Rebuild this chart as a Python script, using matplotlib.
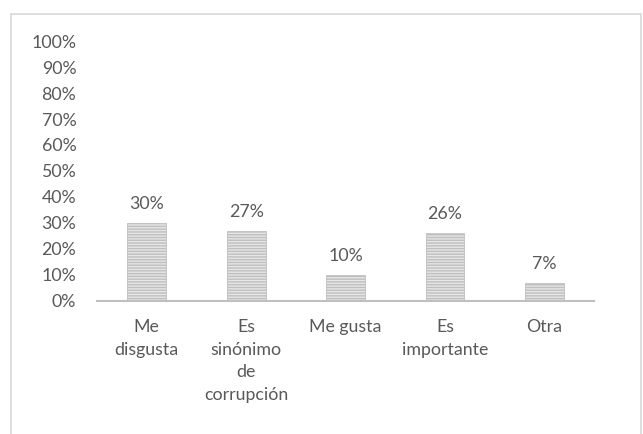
import matplotlib.pyplot as plt
from matplotlib.patches import Rectangle

# Survey answers and their shares (%)
categories = ["Me\ndisgusta", "Es\nsinónimo\nde\ncorrupción", "Me gusta", "Es\nimportante", "Otra"]
values = [30, 27, 10, 26, 7]
yticks = list(range(0, 101, 10))
ytick_labels = [f"{t}%" for t in yticks]

plt.rcParams["font.family"] = ["Lato", "DejaVu Sans"]
plt.rcParams["hatch.linewidth"] = 1.0
plt.rcParams["hatch.color"] = "#a6a6a6"
text_color = "#595959"
fs = 12.8

fig = plt.figure(figsize=(6.43, 4.34), dpi=100)
ax = fig.add_axes([0.151, 0.3065, 0.773, 0.599])

x = range(len(categories))
bars = ax.bar(x, values, width=0.39, color="#e6e6e6", edgecolor="#bfbfbf",
              linewidth=0.6, hatch="------")

for b, v in zip(bars, values):
    ax.annotate(f"{v}%", (b.get_x() + b.get_width() / 2, v), xytext=(0, 8),
                textcoords="offset points", ha="center", va="bottom",
                fontsize=fs, color=text_color)

ax.set_xlim(-0.5, len(categories) - 0.5)
ax.set_ylim(0, 100)
ax.set_yticks(yticks)
ax.set_yticklabels(ytick_labels)
ax.set_xticks(list(x))
ax.set_xticklabels(categories, linespacing=1.5, va="top")
ax.tick_params(axis="y", length=0, pad=15, labelsize=fs, labelcolor=text_color)
ax.tick_params(axis="x", length=0, pad=13, labelsize=fs, labelcolor=text_color)

for side in ["left", "right", "top"]:
    ax.spines[side].set_visible(False)
ax.spines["bottom"].set_color("#bfbfbf")
ax.spines["bottom"].set_linewidth(1.5)

# light chart-area border
fig.patches.append(Rectangle((11 / 643, -0.05), 630 / 643, 1.05 - 14 / 434,
                             transform=fig.transFigure, fill=False,
                             edgecolor="#d9d9d9", linewidth=1.2))

fig.savefig("out.png", dpi=100)
